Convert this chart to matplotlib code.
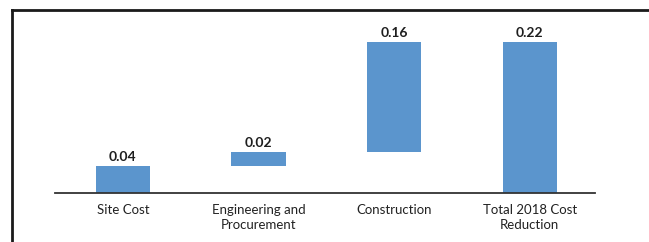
import matplotlib.pyplot as plt
import numpy as np

# data
categories = ['Site Cost', 'Engineering and\nProcurement', 'Construction', 'Total 2018 Cost\nReduction']
steps = [0.04, 0.02, 0.16]
total = sum(steps)
values = steps + [total]
bases = list(np.concatenate([[0], np.cumsum(steps)[:-1]])) + [0]

plt.rcParams['font.family'] = ['Lato', 'DejaVu Sans']

fig = plt.figure(figsize=(6.49, 2.42), dpi=100)
ax = fig.add_axes([55 / 649, 49 / 242, 540 / 649, 183 / 242])

x = np.arange(len(categories))
ax.bar(x, values, bottom=bases, width=0.4, color='#5b95cd')

for xi, v, b in zip(x, values, bases):
    ax.text(xi, b + v + 0.004, f'{v:.2f}', ha='center', va='bottom',
            fontsize=10, fontweight='bold', color='#1e1e1e')

ax.set_xlim(-0.5, 3.48)
ax.set_ylim(0, 183 / 686)
ax.set_xticks(x)
ax.set_xticklabels(categories, fontsize=9.5, color='#222222', linespacing=1.25)
ax.tick_params(axis='x', length=0, pad=8)
ax.set_yticks([])
for s in ['top', 'left', 'right']:
    ax.spines[s].set_visible(False)
ax.spines['bottom'].set_color('#333333')
ax.spines['bottom'].set_linewidth(1.3)

# outer frame (left and top edges)
fig.add_artist(plt.Line2D([12 / 649, 12 / 649], [0, 1 - 10 / 242], color='#1a1a1a', lw=2))
fig.add_artist(plt.Line2D([12 / 649, 1], [1 - 10 / 242, 1 - 10 / 242], color='#1a1a1a', lw=2))

fig.savefig('out.png', dpi=100)
